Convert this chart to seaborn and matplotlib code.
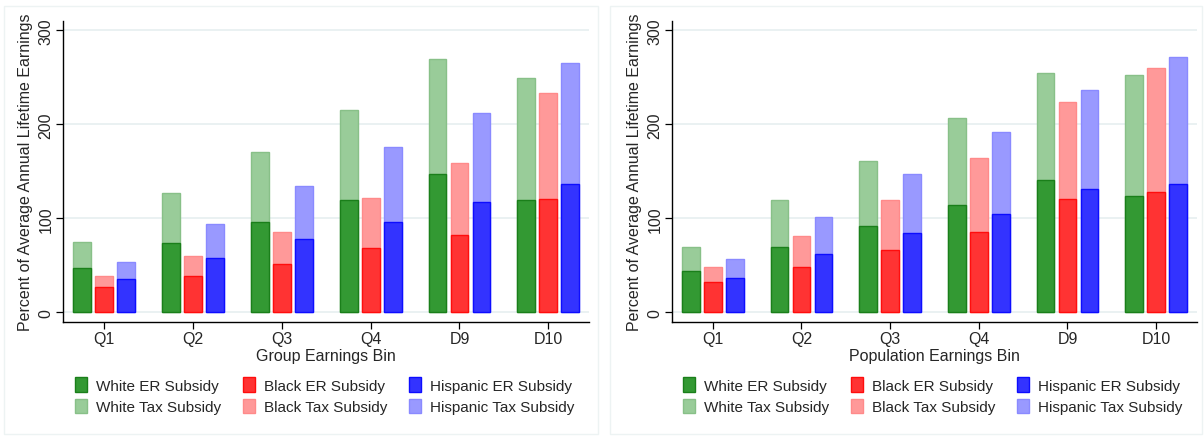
import pandas as pd
import matplotlib
matplotlib.use("Agg")
import matplotlib.pyplot as plt
import matplotlib.patches as mpatches
import seaborn as sns

bins = ["Q1", "Q2", "Q3", "Q4", "D9", "D10"]
groups = ["White", "Black", "Hispanic"]

# left panel: group earnings bins (ER subsidy and tax subsidy, stacked)
grp_white_er = [47, 74, 96, 119, 147, 120]
grp_white_tax = [28, 53, 75, 96, 123, 129]
grp_black_er = [27, 39, 51, 68, 82, 121]
grp_black_tax = [12, 21, 34, 54, 77, 112]
grp_hisp_er = [35, 58, 78, 96, 117, 137]
grp_hisp_tax = [19, 36, 56, 80, 95, 128]

# right panel: population earnings bins
pop_white_er = [44, 70, 92, 114, 141, 124]
pop_white_tax = [26, 49, 69, 93, 114, 129]
pop_black_er = [32, 48, 66, 85, 121, 128]
pop_black_tax = [16, 33, 53, 79, 103, 132]
pop_hisp_er = [37, 62, 84, 105, 131, 136]
pop_hisp_tax = [20, 39, 63, 87, 106, 136]

dark = {"White": "#339933", "Black": "#ff3333", "Hispanic": "#3333ff"}
dark_edge = {"White": "#1a7f1a", "Black": "#ff0d0d", "Hispanic": "#0d0dff"}
light = {"White": "#99cc99", "Black": "#ff9999", "Hispanic": "#9999ff"}
light_edge = {"White": "#88c088", "Black": "#ff8a8a", "Hispanic": "#8a8aff"}


def make_df(er_lists, tax_lists):
    rows = []
    for g, er, tax in zip(groups, er_lists, tax_lists):
        for b, e, t in zip(bins, er, tax):
            rows.append({"bin": b, "group": g, "er": e, "total": e + t})
    return pd.DataFrame(rows)


df_grp = make_df([grp_white_er, grp_black_er, grp_hisp_er],
                 [grp_white_tax, grp_black_tax, grp_hisp_tax])
df_pop = make_df([pop_white_er, pop_black_er, pop_hisp_er],
                 [pop_white_tax, pop_black_tax, pop_hisp_tax])

sns.set_theme(style="white")
plt.rcParams["font.family"] = ["Liberation Sans", "DejaVu Sans"]

fig = plt.figure(figsize=(12.04, 4.39), dpi=100)
ax1 = fig.add_axes([0.0526, 0.265, 0.4366, 0.684])
ax2 = fig.add_axes([0.5584, 0.265, 0.4355, 0.684])

grid_col = "#e6eff0"


def draw(ax, df, xlab, ylab):
    kw = dict(x="bin", hue="group", order=bins, hue_order=groups,
              width=0.7425, gap=0.19, legend=False, ax=ax, errorbar=None,
              saturation=1)
    sns.barplot(data=df, y="total", palette=light, **kw)
    sns.barplot(data=df, y="er", palette=dark, **kw)
    for i, cont in enumerate(ax.containers):
        g = groups[i % 3]
        ec = light_edge[g] if i < 3 else dark_edge[g]
        for p in cont:
            p.set_edgecolor(ec)
            p.set_linewidth(1.0)
    ax.set_ylim(-10, 309.6)
    ax.set_xlim(-0.457, 5.457)
    ax.set_yticks([0, 100, 200, 300])
    ax.yaxis.grid(True, color=grid_col, linewidth=1.2)
    ax.set_axisbelow(True)
    for s in ["top", "right"]:
        ax.spines[s].set_visible(False)
    for s in ["left", "bottom"]:
        ax.spines[s].set_color("black")
        ax.spines[s].set_linewidth(1.0)
    ax.tick_params(axis="both", direction="out", length=5, width=0.9,
                   color="black", labelsize=11.5, left=True, bottom=True,
                   pad=2)
    plt.setp(ax.get_yticklabels(), rotation=90, va="center")
    ax.set_xlabel(xlab, fontsize=11.5, labelpad=1)
    ax.set_ylabel(ylab, fontsize=11.5, labelpad=4)


draw(ax1, df_grp, "Group Earnings Bin",
     "Percent of Average Annual Lifetime Earnings")
draw(ax2, df_pop, "Population Earnings Bin",
     "Percent of Average Annual Lifetime Earnings")

# legends
handles = []
for g in groups:
    handles.append(mpatches.Patch(facecolor=dark[g], edgecolor=dark_edge[g],
                                  label=f"{g} ER Subsidy"))
    handles.append(mpatches.Patch(facecolor=light[g], edgecolor=light_edge[g],
                                  label=f"{g} Tax Subsidy"))

for x0 in [0.0623, 0.567]:
    fig.legend(handles=handles, ncol=3, loc="upper left",
               bbox_to_anchor=(x0, 0.139), frameon=False, fontsize=11,
               handlelength=0.8, handleheight=1.1, handletextpad=0.6,
               columnspacing=1.4, labelspacing=0.4, borderpad=0.0,
               borderaxespad=0.0)

# faint graph region frames
for x0, w in [(0.003, 0.494), (0.507, 0.491)]:
    fig.patches.append(mpatches.Rectangle((x0, 0.01), w, 0.975,
                                          transform=fig.transFigure,
                                          fill=False, edgecolor="#edf3f3",
                                          linewidth=1.0))

fig.savefig("out.png", dpi=100)
